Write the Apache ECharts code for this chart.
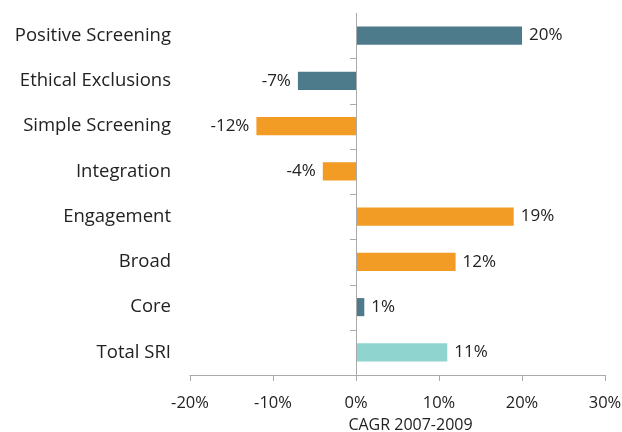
<!DOCTYPE html>
<html>
<head>
<meta charset="utf-8">
<script src="https://cdn.jsdelivr.net/npm/echarts@6/dist/echarts.min.js"></script>
<style>
  html, body { margin: 0; padding: 0; background: #fff; }
  #chart { width: 622px; height: 432px; }
</style>
</head>
<body>
<div id="chart"></div>
<script>
// SRI strategy growth, compound annual growth rate 2007-2009 (%)
const categories = [
  'Positive Screening', 'Ethical Exclusions', 'Simple Screening', 'Integration',
  'Engagement', 'Broad', 'Core', 'Total SRI'
];
const growth = [20, -7, -12, -4, 19, 12, 1, 11];
const groups = ['teal', 'teal', 'orange', 'orange', 'orange', 'orange', 'teal', 'light'];
const xTicks = [-20, -10, 0, 10, 20, 30];
const axisTitle = 'CAGR 2007-2009';

const palette = { teal: '#4d7b8c', orange: '#f29b25', light: '#8fd4ce' };
const FONT = 'Open Sans';

const data = growth.map((v, i) => ({
  value: v,
  itemStyle: { color: palette[groups[i]] },
  label: { position: v < 0 ? 'left' : 'right' }
}));

const chart = echarts.init(document.getElementById('chart'));
chart.setOption({
  animation: false,
  grid: { left: 190, right: 17, top: 13, bottom: 57, outerBoundsMode: 'none', containLabel: false },
  xAxis: {
    type: 'value',
    min: xTicks[0],
    max: xTicks[xTicks.length - 1],
    interval: 10,
    name: axisTitle,
    nameLocation: 'middle',
    nameGap: 42,
    nameTextStyle: { fontFamily: FONT, fontSize: 16, color: '#222', padding: [0, 0, 0, 26] },
    axisLine: { show: true, lineStyle: { color: '#aaa' } },
    axisTick: { show: true, length: 6, lineStyle: { color: '#aaa' } },
    axisLabel: {
      fontFamily: FONT, fontSize: 16.5, color: '#222', margin: 20,
      formatter: v => v + '%'
    },
    splitLine: { show: false }
  },
  yAxis: {
    type: 'category',
    data: categories,
    inverse: true,
    axisLine: { show: false },
    axisTick: { show: false },
    axisLabel: { fontFamily: FONT, fontSize: 18.5, color: '#222', margin: 19 }
  },
  series: [{
    type: 'bar',
    data: data,
    barWidth: '40%',
    label: {
      show: true,
      fontFamily: FONT, fontSize: 17, color: '#222', distance: 7,
      formatter: p => p.value + '%'
    }
  }, {
    // vertical zero line
    type: 'line',
    data: [],
    markLine: {
      silent: true, symbol: 'none', label: { show: false },
      lineStyle: { color: '#aaa', type: 'solid', width: 1 },
      data: [{ xAxis: 0 }]
    }
  }]
});

// short ticks on the zero line, between categories
const ticks = [];
const x0 = chart.convertToPixel({ xAxisIndex: 0 }, 0);
for (let i = 1; i < categories.length; i++) {
  const y = chart.convertToPixel({ yAxisIndex: 0 }, i);
  const yPrev = chart.convertToPixel({ yAxisIndex: 0 }, i - 1);
  const ym = Math.round((y + yPrev) / 2) + 0.5;
  ticks.push({ type: 'line', shape: { x1: x0 - 6, y1: ym, x2: x0, y2: ym }, style: { stroke: '#aaa', lineWidth: 1 } });
}
chart.setOption({ graphic: ticks });
</script>
</body>
</html>
